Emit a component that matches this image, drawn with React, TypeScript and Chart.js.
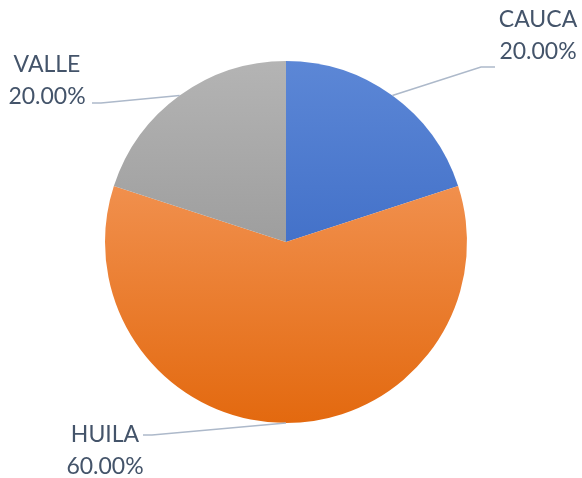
import React, { useEffect, useRef } from "react";
import { Chart, registerables } from "chart.js";

Chart.register(...registerables);

const categories: string[] = ["CAUCA", "HUILA", "VALLE"];
const values: number[] = [20, 60, 20];
const gradientTop: string[] = ["#5C87D6", "#F8A46E", "#B4B4B4"];
const gradientBottom: string[] = ["#2B5CBC", "#E3690F", "#888888"];

// label layout (canvas pixels): elbow point, line end, text center
const labelLayout = [
  { elbow: [481, 67], end: [495, 67], text: [538, 20] },
  { elbow: [152, 435], end: [143, 435], text: [105, 435] },
  { elbow: [101, 103], end: [92, 103], text: [47, 65] },
];

const labelPlugin = {
  id: "officeLabels",
  afterDraw(chart: any) {
    const ctx = chart.ctx as CanvasRenderingContext2D;
    const meta = chart.getDatasetMeta(0);
    const total = values.reduce((a, b) => a + b, 0);
    ctx.save();
    meta.data.forEach((el: any, i: number) => {
      const a = (el.startAngle + el.endAngle) / 2;
      const ax = el.x + Math.cos(a) * el.outerRadius;
      const ay = el.y + Math.sin(a) * el.outerRadius;
      const L = labelLayout[i];
      ctx.strokeStyle = "#ADB9CA";
      ctx.lineWidth = 1.5;
      ctx.beginPath();
      ctx.moveTo(ax, ay);
      ctx.lineTo(L.elbow[0], L.elbow[1]);
      ctx.lineTo(L.end[0], L.end[1]);
      ctx.stroke();
      ctx.fillStyle = "#44546A";
      ctx.font = "23px Lato";
      ctx.textAlign = "center";
      ctx.textBaseline = "middle";
      ctx.fillText(categories[i], L.text[0], L.text[1]);
      const pct = ((values[i] / total) * 100).toFixed(2) + "%";
      ctx.fillText(pct, L.text[0], L.text[1] + 32);
    });
    ctx.restore();
  },
};

export default function App() {
  const ref = useRef<HTMLCanvasElement>(null);
  useEffect(() => {
    document.body.style.margin = "0";
    const canvas = ref.current!;
    const chart = new Chart(canvas, {
      type: "pie",
      data: {
        labels: categories,
        datasets: [
          {
            data: values,
            borderWidth: 0,
            backgroundColor: (c: any) => {
              const area = c.chart.chartArea;
              if (!area) return gradientTop[c.dataIndex];
              const g = c.chart.ctx.createLinearGradient(0, area.top, 0, area.bottom);
              g.addColorStop(0, gradientTop[c.dataIndex]);
              g.addColorStop(1, gradientBottom[c.dataIndex]);
              return g;
            },
          },
        ],
      },
      options: {
        responsive: false,
        animation: false,
        layout: { padding: { top: 61, bottom: 55, left: 105, right: 115 } },
        plugins: {
          legend: { display: false },
          tooltip: { enabled: false },
        },
      },
      plugins: [labelPlugin],
    });
    return () => chart.destroy();
  }, []);
  return (
    <div style={{ width: 582, height: 478, background: "#fff" }}>
      <canvas ref={ref} width={582} height={478} style={{ display: "block" }} />
    </div>
  );
}
